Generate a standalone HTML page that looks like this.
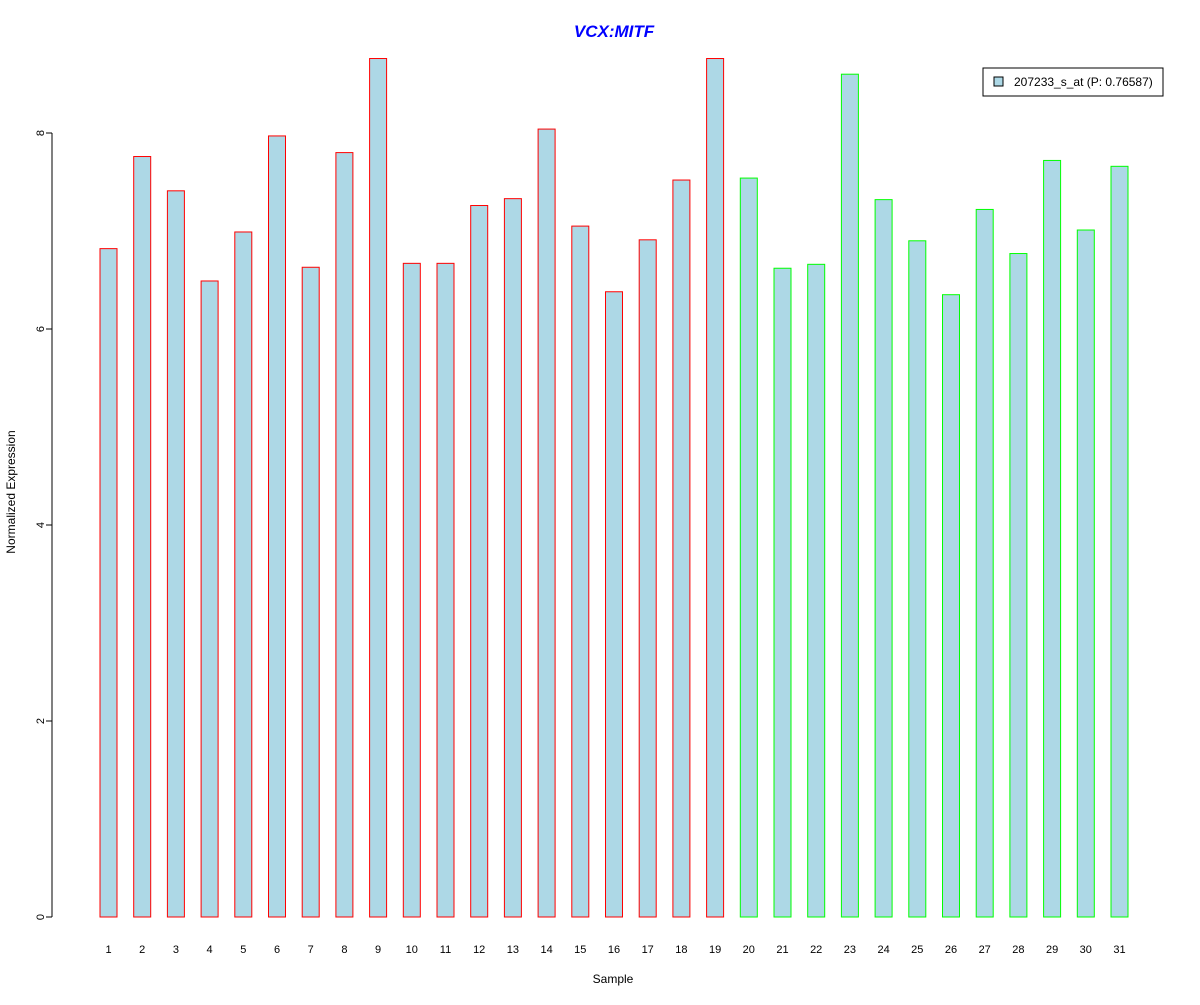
<!DOCTYPE html>
<html><head><meta charset="utf-8"><style>
body{margin:0;background:#fff;font-family:"Liberation Sans",Arial,sans-serif}
svg text{font-family:"Liberation Sans",Arial,sans-serif}
</style></head><body>
<svg id="chart" width="1200" height="1000" xmlns="http://www.w3.org/2000/svg">
<rect width="1200" height="1000" fill="#fff"/>
<text x="614" y="37" text-anchor="middle" font-size="17" font-weight="bold" font-style="italic" fill="#0000ff">VCX:MITF</text>
<text x="613" y="983" text-anchor="middle" font-size="12">Sample</text>
<text transform="translate(15,492) rotate(-90)" text-anchor="middle" font-size="12">Normalized Expression</text>
<g id="yaxis"></g>
<g id="bars"></g>
<g id="xlabels"></g>
<g>
<rect x="983" y="68" width="180" height="28" fill="#fff" stroke="#000"/>
<rect x="994" y="77" width="9" height="9" fill="#add8e6" stroke="#000"/>
<text x="1014" y="86" font-size="12">207233_s_at (P: 0.76587)</text>
</g>
</svg>
<script>
const categories=["1","2","3","4","5","6","7","8","9","10","11","12","13","14","15","16","17","18","19","20","21","22","23","24","25","26","27","28","29","30","31"];
const values=[6.82,7.76,7.41,6.49,6.99,7.97,6.63,7.80,8.76,6.67,6.67,7.26,7.33,8.04,7.05,6.38,6.91,7.52,8.76,7.54,6.62,6.66,8.60,7.32,6.90,6.35,7.22,6.77,7.72,7.01,7.66];
const groups=["a","a","a","a","a","a","a","a","a","a","a","a","a","a","a","a","a","a","a","b","b","b","b","b","b","b","b","b","b","b","b"];
const yTicks=[0,2,4,6,8];
const NS="http://www.w3.org/2000/svg";
function y(v){return 917-v*98;}
function x(i){return 108.5+i*33.7;}
function mk(t,a,p){const e=document.createElementNS(NS,t);for(const k in a)e.setAttribute(k,a[k]);p.appendChild(e);return e;}
const ya=document.getElementById('yaxis');
const ax=mk('line',{x1:52,x2:52,y1:y(0),y2:y(8),stroke:'#000'},ya);


yTicks.forEach(t=>{
 const l=mk('line',{x1:46,x2:52,y1:y(t),y2:y(t),stroke:'#000'},ya);
 
 
 const tx=mk('text',{transform:`translate(44,${y(t)}) rotate(-90)`,'text-anchor':'middle','font-size':11},ya);
 
 
 tx.textContent=t;
});
const bg=document.getElementById('bars'),xl=document.getElementById('xlabels');
values.forEach((v,i)=>{
 const r=mk('rect',{x:x(i)-8.5,y:y(v),width:17,height:y(0)-y(v),fill:'#add8e6',stroke:groups[i]==='a'?'#ff0000':'#00ff00'},bg);
 
 
 const t=mk('text',{x:x(i),y:953,'text-anchor':'middle','font-size':11},xl);
 
 
 t.textContent=categories[i];
});
</script>
</body></html>
